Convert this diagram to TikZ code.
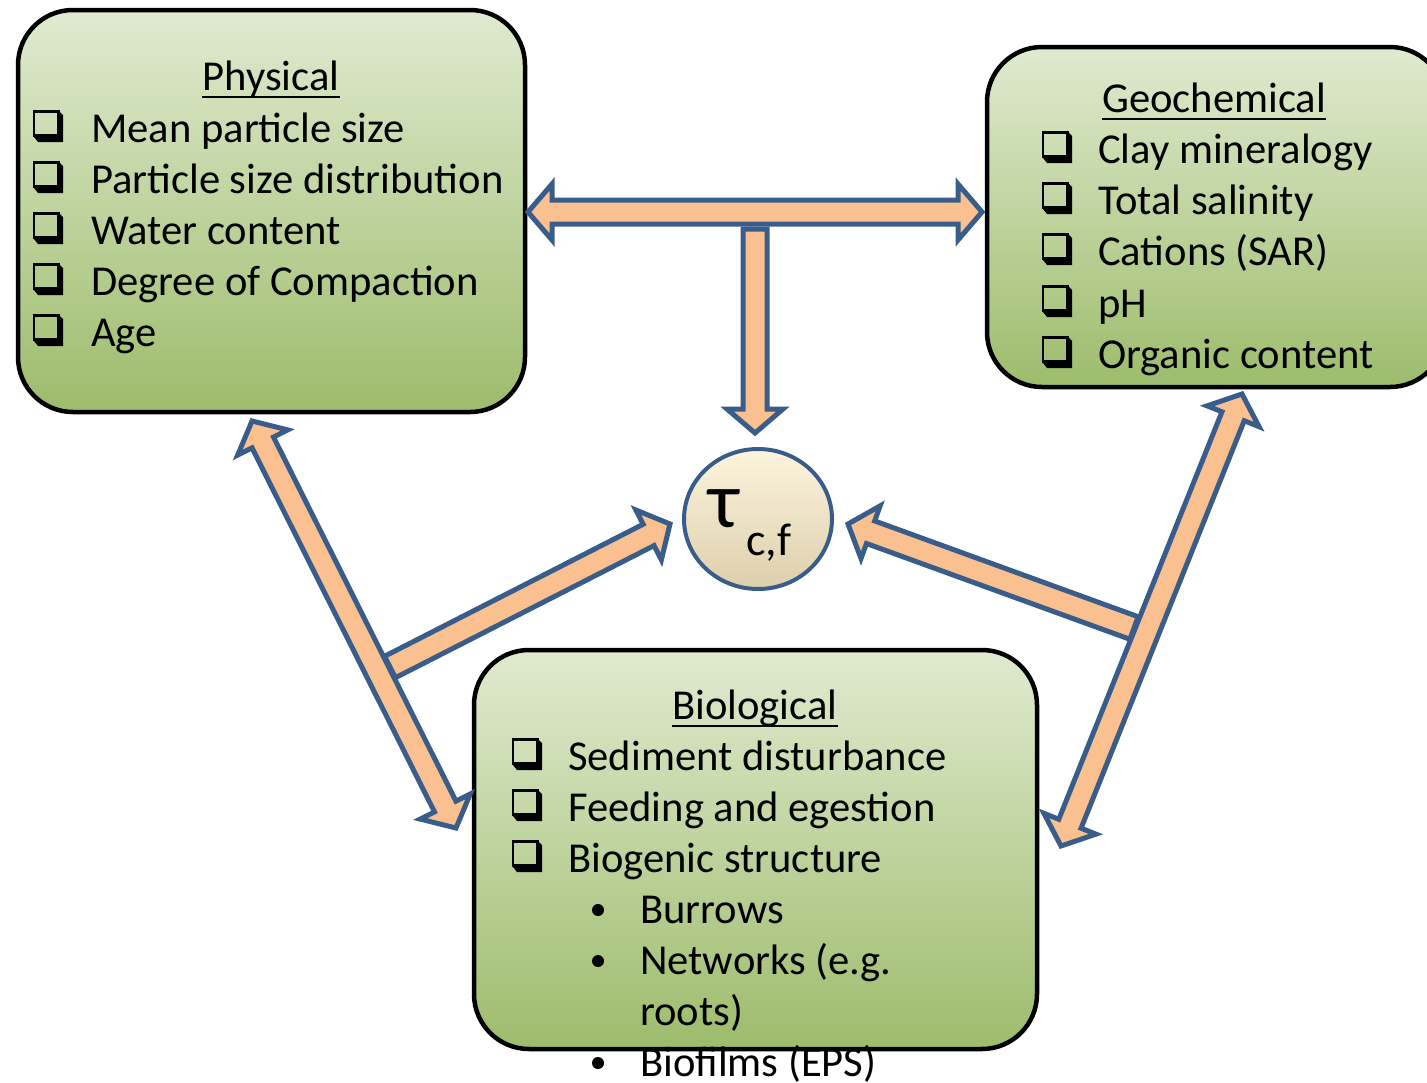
\documentclass[tikz,border=0pt]{standalone}
\usepackage{fontspec}
\setmainfont{Carlito}
\usetikzlibrary{calc,shapes.geometric}
\definecolor{arfill}{RGB}{250,192,143}
\definecolor{arline}{RGB}{56,93,138}
\definecolor{boxtop}{RGB}{224,234,208}
\definecolor{boxbot}{RGB}{157,188,108}
\definecolor{circtop}{RGB}{253,244,222}
\definecolor{circbot}{RGB}{220,207,172}
\def\arsw{12pt}
\def\arhw{28pt}
\def\arhl{24pt}
\newcommand\singlearrow[2]{%
  \coordinate (hh) at ($(#2)!\arhl!(#1)$);
  \draw[blockarrow] ($(#1)!\arsw!90:(#2)$) -- ($(hh)!\arsw!90:(#2)$) -- ($(hh)!\arhw!90:(#2)$) -- (#2)
    -- ($(hh)!\arhw!-90:(#2)$) -- ($(hh)!\arsw!-90:(#2)$) -- ($(#1)!\arsw!-90:(#2)$) -- cycle;}
\newcommand\doublearrow[2]{%
  \coordinate (ha) at ($(#1)!\arhl!(#2)$);
  \coordinate (hb) at ($(#2)!\arhl!(#1)$);
  \draw[blockarrow] (#1) -- ($(ha)!\arhw!90:(#2)$) -- ($(ha)!\arsw!90:(#2)$) -- ($(hb)!\arsw!90:(#2)$)
    -- ($(hb)!\arhw!90:(#2)$) -- (#2) -- ($(hb)!\arhw!-90:(#2)$) -- ($(hb)!\arsw!-90:(#2)$)
    -- ($(ha)!\arsw!-90:(#2)$) -- ($(ha)!\arhw!-90:(#2)$) -- cycle;}
\newcommand\chkbox[2]{%
  \fill (#1+1,#2-5) -- (#1+5,#2) -- (#1+30,#2) -- (#1+30,#2-27) -- (#1+26,#2-31) -- (#1+26,#2-5) -- cycle;
  \draw[line width=2.5pt] (#1+1.2,#2-30.7) rectangle (#1+25.5,#2-6.3);}
\begin{document}
\begin{tikzpicture}[x=1pt,y=-1pt,
  blockarrow/.style={fill=arfill,draw=arline,line width=5pt,line join=miter},
  panel/.style={draw=black,line width=4.5pt,rounded corners=55pt,top color=boxtop,bottom color=boxbot,inner sep=0pt},
  item/.style={anchor=base west,inner sep=0pt,font=\fontsize{42.6}{50}\selectfont},
  ttl/.style={anchor=base,inner sep=0pt,font=\fontsize{42.6}{50}\selectfont},
  uline/.style={line width=2.5pt}]
\useasboundingbox (0,0) rectangle (1427,1082);
% panels
\node[panel,minimum width=507pt,minimum height=402pt] (phys) at (271.5,211) {};
\node[panel,minimum width=458pt,minimum height=340pt] (geo) at (1216,217) {};
\node[panel,minimum width=563pt,minimum height=399pt] (bio) at (755.5,849.5) {};
% Physical
\node[ttl] (physt) at (271,90) {Physical};
\draw[uline] ([yshift=-7pt]physt.base west) -- ([yshift=-7pt]physt.base east);
\foreach \yy/\tt/\nn in {142/Mean particle size/p1,193/Particle size distribution/p2,244/Water content/p3,295/Degree of Compaction/p4,346/Age/p5}{
  \chkbox{33}{\yy}
  \node[item] (\nn) at (91,\yy) {\tt};}
% Geochemical
\node[ttl] (geot) at (1214,112) {Geochemical};
\draw[uline] ([yshift=-7pt]geot.base west) -- ([yshift=-7pt]geot.base east);
\foreach \yy/\tt/\nn in {163/Clay mineralogy/g1,214/Total salinity/g2,265/Cations (SAR)/g3,317/pH/g4,368/Organic content/g5}{
  \chkbox{1042}{\yy}
  \node[item] (\nn) at (1098,\yy) {\tt};}
% Biological
\node[ttl] (biot) at (755,719) {Biological};
\draw[uline] ([yshift=-7pt]biot.base west) -- ([yshift=-7pt]biot.base east);
\foreach \yy/\tt/\nn in {770/Sediment disturbance/b1,821/Feeding and egestion/b2,872/Biogenic structure/b3}{
  \chkbox{512}{\yy}
  \node[item] (\nn) at (568,\yy) {\tt};}
\foreach \yy/\tt/\nn in {923/Burrows/s1,974/Networks (e.g./s2,1076/Biofilms (EPS)/s4}{
  \fill (598,\yy-13) circle (6pt);
  \node[item] (\nn) at (640,\yy) {\tt};}
\node[item] (s3) at (640,1025) {roots)};
% central circle
\node[ellipse,draw=arline,line width=4pt,top color=circtop,bottom color=circbot,minimum width=148pt,minimum height=140pt,inner sep=0pt] (tau) at (758,519) {};
\node[anchor=base west,inner sep=0pt,font=\fontsize{80}{80}\selectfont] (taus) at (708,527) {τ};
\node[anchor=base west,inner sep=0pt,font=\fontsize{46}{46}\selectfont] (taub) at (746,555) {c,f};
% arrow coordinates
\coordinate (hl) at (528,212);
\coordinate (hr) at (982,212);
\coordinate (vt) at (755,229);
\coordinate (vb) at (755,433);
\coordinate (ldt) at (252,421);
\coordinate (ldb) at (456,828);
\coordinate (lbb) at (390,667);
\coordinate (lbt) at (670,524);
\coordinate (rdt) at (1242,394);
\coordinate (rdb) at (1061,846);
\coordinate (rbb) at (1134,628);
\coordinate (rbt) at (848,524);
% arrows
\doublearrow{hl}{hr}
\singlearrow{vt}{vb}
\doublearrow{ldt}{ldb}
\singlearrow{lbb}{lbt}
\doublearrow{rdt}{rdb}
\singlearrow{rbb}{rbt}
\end{tikzpicture}
\end{document}
